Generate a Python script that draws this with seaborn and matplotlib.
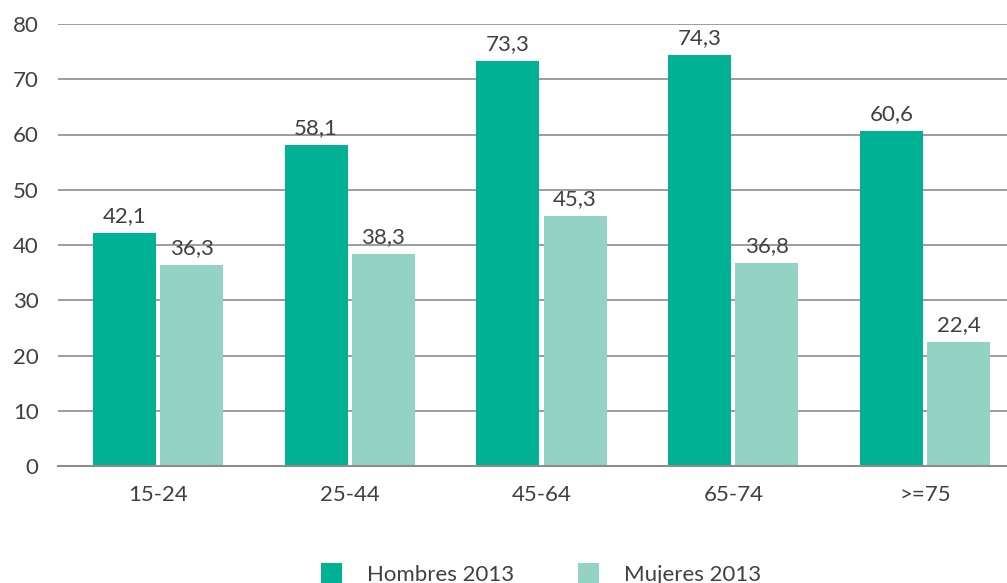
import pandas as pd
import numpy as np
import matplotlib
matplotlib.use("Agg")
import matplotlib.pyplot as plt
import seaborn as sns

# ==========================================
# Data
# ==========================================

grupos = ["15-24", "25-44", "45-64", "65-74", ">=75"]
hombres = [42.1, 58.1, 73.3, 74.3, 60.6]
mujeres = [36.3, 38.3, 45.3, 36.8, 22.4]
series = ["Hombres 2013", "Mujeres 2013"]
colores = ["#00B193", "#94D3C3"]

df = pd.DataFrame({
    "Grupo": grupos * 2,
    "Valor": hombres + mujeres,
    "Serie": [series[0]] * len(grupos) + [series[1]] * len(grupos),
})

# ==========================================
# Plot
# ==========================================

sns.set_style("white")
plt.rcParams["font.family"] = ["Lato", "DejaVu Sans"]
texto = "#404040"

fig = plt.figure(figsize=(10.07, 5.83), dpi=100)
ax = fig.add_axes([58 / 1007, 1 - 466 / 583, (1007 - 58) / 1007, 442 / 583])

sns.barplot(
    data=df, x="Grupo", y="Valor", hue="Serie",
    palette=colores, width=0.7, gap=0.06, ax=ax,
    saturation=1, legend=True, edgecolor="none"
)

ax.set_xlim(-0.5215, 4.4276)
ax.set_ylim(0, 80)
ax.set_yticks(range(0, 81, 10))
ax.yaxis.grid(True, color="#8c8c8c", linewidth=1.2)
ax.set_axisbelow(True)
for s in ["top", "right", "left"]:
    ax.spines[s].set_visible(False)
ax.spines["bottom"].set_color("#8c8c8c")
ax.spines["bottom"].set_linewidth(1.5)

ax.set_xlabel("")
ax.set_ylabel("")
ax.tick_params(axis="both", length=0, labelsize=16, labelcolor=texto)
ax.tick_params(axis="y", pad=14)
ax.tick_params(axis="x", pad=14)

for cont in ax.containers:
    ax.bar_label(cont, labels=[f"{v:.1f}".replace(".", ",") for v in cont.datavalues],
                 padding=5, fontsize=16, color=texto)

handles, labels = ax.get_legend_handles_labels()
ax.get_legend().remove()
fig.legend(
    handles, labels, loc="center", ncol=2, frameon=False,
    bbox_to_anchor=(541 / 1007, 1 - 574 / 583),
    fontsize=16, labelcolor=texto,
    handlelength=0.95, handleheight=0.95, handletextpad=1.1,
    columnspacing=2.9
)

plt.savefig("out.png", dpi=100)
